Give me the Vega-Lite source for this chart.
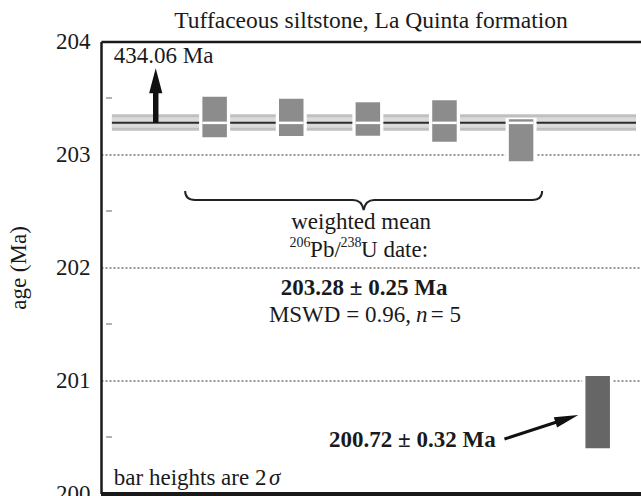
{
  "$schema": "https://vega.github.io/schema/vega-lite/v6.json",
  "width": 540,
  "height": 452,
  "autosize": {"type": "none"},
  "padding": {"left": 101, "top": 41.5, "right": 0, "bottom": 2.5},
  "background": "white",
  "config": {"view": {"stroke": null}, "font": "Liberation Serif"},
  "title": {"text": "Tuffaceous siltstone, La Quinta formation", "font": "Liberation Serif", "fontSize": 23.5, "fontWeight": "normal", "color": "#1a1a1a", "anchor": "middle", "frame": "group", "baseline": "alphabetic", "offset": -20.5},
  "resolve": {"scale": {"color": "independent"}},
  "datasets": {
    "grains": [
      {"g": 1, "v": 203.152, "v2": 203.511, "status": "included"},
      {"g": 2, "v": 203.164, "v2": 203.494, "status": "included"},
      {"g": 3, "v": 203.166, "v2": 203.462, "status": "included"},
      {"g": 4, "v": 203.113, "v2": 203.48, "status": "included"},
      {"g": 5, "v": 202.94, "v2": 203.312, "status": "included"},
      {"g": 6, "v": 200.40, "v2": 201.04, "status": "excluded"}
    ]
  },
  "encoding": {
    "x": {"field": "g", "type": "quantitative", "scale": {"domain": [-0.418, 6.5], "nice": false, "zero": false},
      "axis": {"orient": "bottom", "labels": false, "ticks": false, "grid": false, "title": null, "domainColor": "#1a1a1a", "domainWidth": 2.5}},
    "y": {"field": "v", "type": "quantitative", "scale": {"domain": [200, 204], "nice": false, "zero": false},
      "axis": {
        "title": "age (Ma)", "titleFont": "Liberation Serif", "titleFontSize": 23, "titleFontWeight": "normal", "titleColor": "#1a1a1a", "titlePadding": 25,
        "values": [200, 201, 202, 203, 204], "format": "d",
        "labelFont": "Liberation Serif", "labelFontSize": 23, "labelColor": "#1a1a1a", "labelPadding": 11,
        "ticks": false,
        "grid": true, "gridDash": [2, 2], "gridColor": "#333333", "gridWidth": 1,
        "domainColor": "#1a1a1a", "domainWidth": 2.5
      }}
  },
  "layer": [
    {
      "data": {"values": [
        {"part": "outer", "v": 203.211, "v2": 203.356, "g": -0.341, "g2": 6.5},
        {"part": "inner", "v": 203.237, "v2": 203.329, "g": -0.341, "g2": 6.5}
      ]},
      "mark": {"type": "rect"},
      "encoding": {
        "x2": {"field": "g2"},
        "y2": {"field": "v2"},
        "color": {"field": "part", "type": "nominal", "scale": {"domain": ["outer", "inner"], "range": ["#c0c0c0", "#dadada"]}, "legend": null}
      }
    },
    {
      "data": {"values": [{"v": 203.28, "g": -0.341, "g2": 6.5}]},
      "mark": {"type": "rule", "color": "#2b2b2b", "strokeWidth": 2},
      "encoding": {
        "x": {"field": "g", "type": "quantitative", "scale": {"domain": [-0.418, 6.5], "nice": false, "zero": false},
          "axis": {"orient": "top", "labels": false, "ticks": false, "grid": false, "title": null, "domainColor": "#1a1a1a", "domainWidth": 2.5}},
        "x2": {"field": "g2"}
      }
    },
    {
      "data": {"values": [
        {"g": -0.418, "v": 200.5},
        {"g": -0.418, "v": 201.5},
        {"g": -0.418, "v": 202.5},
        {"g": -0.418, "v": 203.5}
      ]},
      "mark": {"type": "tick", "orient": "horizontal", "size": 6, "thickness": 1, "xOffset": 3, "color": "#666666", "opacity": 1}
    },
    {
      "data": {"name": "grains"},
      "mark": {"type": "bar", "fill": "white", "stroke": "white", "strokeWidth": 3, "size": 28, "orient": "vertical"},
      "encoding": {"y2": {"field": "v2"}}
    },
    {
      "data": {"name": "grains"},
      "mark": {"type": "bar", "size": 24.5, "orient": "vertical"},
      "encoding": {
        "y2": {"field": "v2"},
        "color": {"field": "status", "type": "nominal", "scale": {"domain": ["included", "excluded"], "range": ["#8c8c8c", "#666666"]}, "legend": null}
      }
    },
    {
      "data": {"values": [
        {"g": 1, "v": 203.28}, {"g": 2, "v": 203.28}, {"g": 3, "v": 203.28}, {"g": 4, "v": 203.28}, {"g": 5, "v": 203.28}
      ]},
      "mark": {"type": "tick", "orient": "horizontal", "color": "white", "thickness": 2.5, "size": 24.5, "opacity": 1}
    },
    {
      "data": {"values": [{"g": 0.231, "v": 203.28, "v2": 203.571}]},
      "mark": {"type": "rule", "color": "#111111", "strokeWidth": 5.5},
      "encoding": {"y2": {"field": "v2"}}
    },
    {
      "data": {"values": [{"g": 0.231, "v": 203.652}]},
      "mark": {"type": "point", "shape": "M0,-1L0.53,1L-0.53,1Z", "size": 625, "filled": true, "color": "#111111", "opacity": 1}
    },
    {
      "data": {"values": [{"g": 4.783, "v": 200.482, "g2": 5.526, "v2": 200.646}]},
      "mark": {"type": "rule", "color": "#111111", "strokeWidth": 3},
      "encoding": {"x2": {"field": "g2"}, "y2": {"field": "v2"}}
    },
    {
      "data": {"values": [{"g": 5.598, "v": 200.662}]},
      "mark": {"type": "point", "shape": "M1,0L-1,-0.45L-1,0.45Z", "size": 576, "angle": -17.7, "filled": true, "color": "#111111", "opacity": 1}
    },
    {
      "data": {"values": [{"g": 2.945, "v": 202.597}]},
      "mark": {"type": "point", "shape": "M-1,-0.05Q-1,0 -0.944,0L-0.06,0Q-0.01,0 0,0.056Q0.01,0 0.06,0L0.944,0Q1,0 1,-0.05", "size": 127449, "filled": false, "color": "#222222", "strokeWidth": 2, "opacity": 1}
    },
    {
      "data": {"values": [
        {"label": "434.06 Ma", "g": -0.316, "v": 203.81},
        {"label": "bar heights are 2", "g": -0.316, "v": 200.075},
        {"label": "Pb/", "g": 2.246, "v": 202.093},
        {"label": "U date:", "g": 2.911, "v": 202.093},
        {"label": "MSWD = 0.96,", "g": 1.708, "v": 201.518},
        {"label": "= 5", "g": 3.821, "v": 201.518}
      ]},
      "mark": {"type": "text", "align": "left", "baseline": "alphabetic", "font": "Liberation Serif", "fontSize": 23, "color": "#1a1a1a"},
      "encoding": {"text": {"field": "label"}}
    },
    {
      "data": {"values": [{"label": "weighted mean", "g": 2.913, "v": 202.341}]},
      "mark": {"type": "text", "align": "center", "baseline": "alphabetic", "font": "Liberation Serif", "fontSize": 23, "color": "#1a1a1a"},
      "encoding": {"text": {"field": "label"}}
    },
    {
      "data": {"values": [{"label": "203.28 ± 0.25 Ma", "g": 2.951, "v": 201.757}]},
      "mark": {"type": "text", "align": "center", "baseline": "alphabetic", "font": "Liberation Serif", "fontSize": 23, "fontWeight": "bold", "color": "#1a1a1a"},
      "encoding": {"text": {"field": "label"}}
    },
    {
      "data": {"values": [{"label": "200.72 ± 0.32 Ma", "g": 4.668, "v": 200.412}]},
      "mark": {"type": "text", "align": "right", "baseline": "alphabetic", "font": "Liberation Serif", "fontSize": 23, "fontWeight": "bold", "color": "#1a1a1a"},
      "encoding": {"text": {"field": "label"}}
    },
    {
      "data": {"values": [
        {"label": "n", "g": 3.629, "v": 201.518},
        {"label": "σ", "g": 1.708, "v": 200.075}
      ]},
      "mark": {"type": "text", "align": "left", "baseline": "alphabetic", "font": "Liberation Serif", "fontSize": 23, "fontStyle": "italic", "color": "#1a1a1a"},
      "encoding": {"text": {"field": "label"}}
    },
    {
      "data": {"values": [
        {"label": "206", "g": 1.977, "v": 202.181},
        {"label": "238", "g": 2.644, "v": 202.181}
      ]},
      "mark": {"type": "text", "align": "left", "baseline": "alphabetic", "font": "Liberation Serif", "fontSize": 14, "color": "#1a1a1a"},
      "encoding": {"text": {"field": "label"}}
    }
  ]
}
